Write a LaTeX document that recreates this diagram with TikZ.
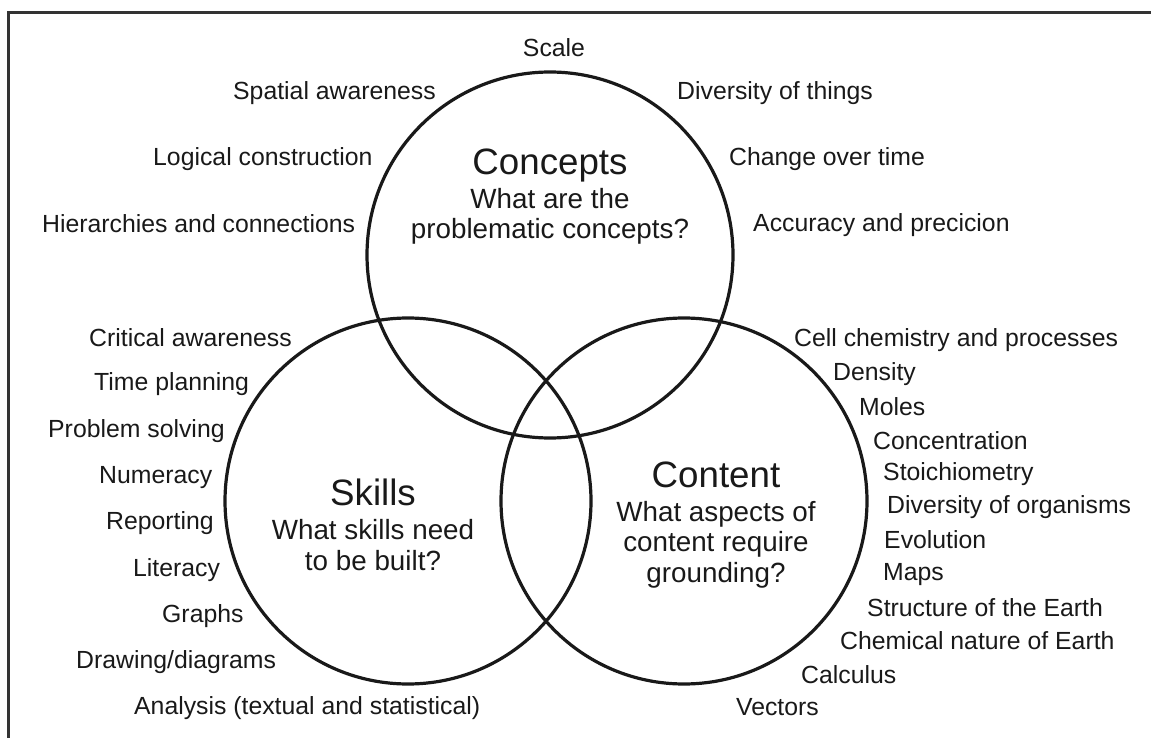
\documentclass[tikz,border=0pt]{standalone}
\usepackage{fontspec}
\setmainfont{Liberation Sans}
\begin{document}
\begin{tikzpicture}[x=1pt,y=-1pt,
  item/.style={inner sep=0pt, text=black!90, font=\fontsize{24.8pt}{30pt}\selectfont},
  ttl/.style={inner sep=0pt, text=black!90, anchor=base, font=\fontsize{36.7pt}{40pt}\selectfont},
  qst/.style={inner sep=0pt, text=black!90, anchor=base, font=\fontsize{27.8pt}{31pt}\selectfont},
  ring/.style={line width=3.2pt, draw=black!90},
  frame/.style={line width=3.4pt, draw=black!80}]
\useasboundingbox (0,0) rectangle (1151,738);
% frame (only top and left edges visible)
\draw[frame] (8.5,740) |- (1153,12.5);
% circle centres
\coordinate (cc) at (550,255);
\coordinate (sc) at (408,501);
\coordinate (tc) at (684,501);
\draw[ring] (cc) circle (183);
\draw[ring] (sc) circle (183);
\draw[ring] (tc) circle (183);
% titles
\node[ttl] (concT) at (550,175) {Concepts};
\node[qst] (concQa) at (550,208) {What are the};
\node[qst] (concQb) at (550,238) {problematic concepts?};
\node[ttl] (skilT) at (373,505) {Skills};
\node[qst] (skilQa) at (373,539) {What skills need};
\node[qst] (skilQb) at (373,570) {to be built?};
\node[ttl] (contT) at (716,487) {Content};
\node[qst] (contQa) at (716,521) {What aspects of};
\node[qst] (contQb) at (716,551) {content require};
\node[qst] (contQc) at (716,582) {grounding?};
% concept items
\node[item,anchor=base] (i1) at (554,57) {Scale};
\node[item,anchor=base west] (i2) at (233,100) {Spatial awareness};
\node[item,anchor=base west] (i3) at (677,100) {Diversity of things};
\node[item,anchor=base west] (i4) at (153,166) {Logical construction};
\node[item,anchor=base west] (i5) at (729,166) {Change over time};
\node[item,anchor=base west] (i6) at (42,233) {Hierarchies and connections};
\node[item,anchor=base west] (i7) at (753,232) {Accuracy and precicion};
% skill items
\node[item,anchor=base west] (s1) at (89,346) {Critical awareness};
\node[item,anchor=base west] (s2) at (94,390) {Time planning};
\node[item,anchor=base west] (s3) at (48,437) {Problem solving};
\node[item,anchor=base west] (s4) at (99,483) {Numeracy};
\node[item,anchor=base west] (s5) at (106,529) {Reporting};
\node[item,anchor=base west] (s6) at (133,576) {Literacy};
\node[item,anchor=base west] (s7) at (162,622) {Graphs};
\node[item,anchor=base west] (s8) at (76,668) {Drawing/diagrams};
\node[item,anchor=base west] (s9) at (134,714) {Analysis (textual and statistical)};
% content items
\node[item,anchor=base west] (t1) at (794,346) {Cell chemistry and processes};
\node[item,anchor=base west] (t2) at (833,380) {Density};
\node[item,anchor=base west] (t3) at (859,415) {Moles};
\node[item,anchor=base west] (t4) at (873,449) {Concentration};
\node[item,anchor=base west] (t5) at (883,480) {Stoichiometry};
\node[item,anchor=base west] (t6) at (887,513) {Diversity of organisms};
\node[item,anchor=base west] (t7) at (884,548) {Evolution};
\node[item,anchor=base west] (t8) at (883,580) {Maps};
\node[item,anchor=base west] (t9) at (867,616) {Structure of the Earth};
\node[item,anchor=base west] (t10) at (840,649) {Chemical nature of Earth};
\node[item,anchor=base west] (t11) at (801,683) {Calculus};
\node[item,anchor=base east] (t12) at (819,715) {Vectors};
\end{tikzpicture}
\end{document}
